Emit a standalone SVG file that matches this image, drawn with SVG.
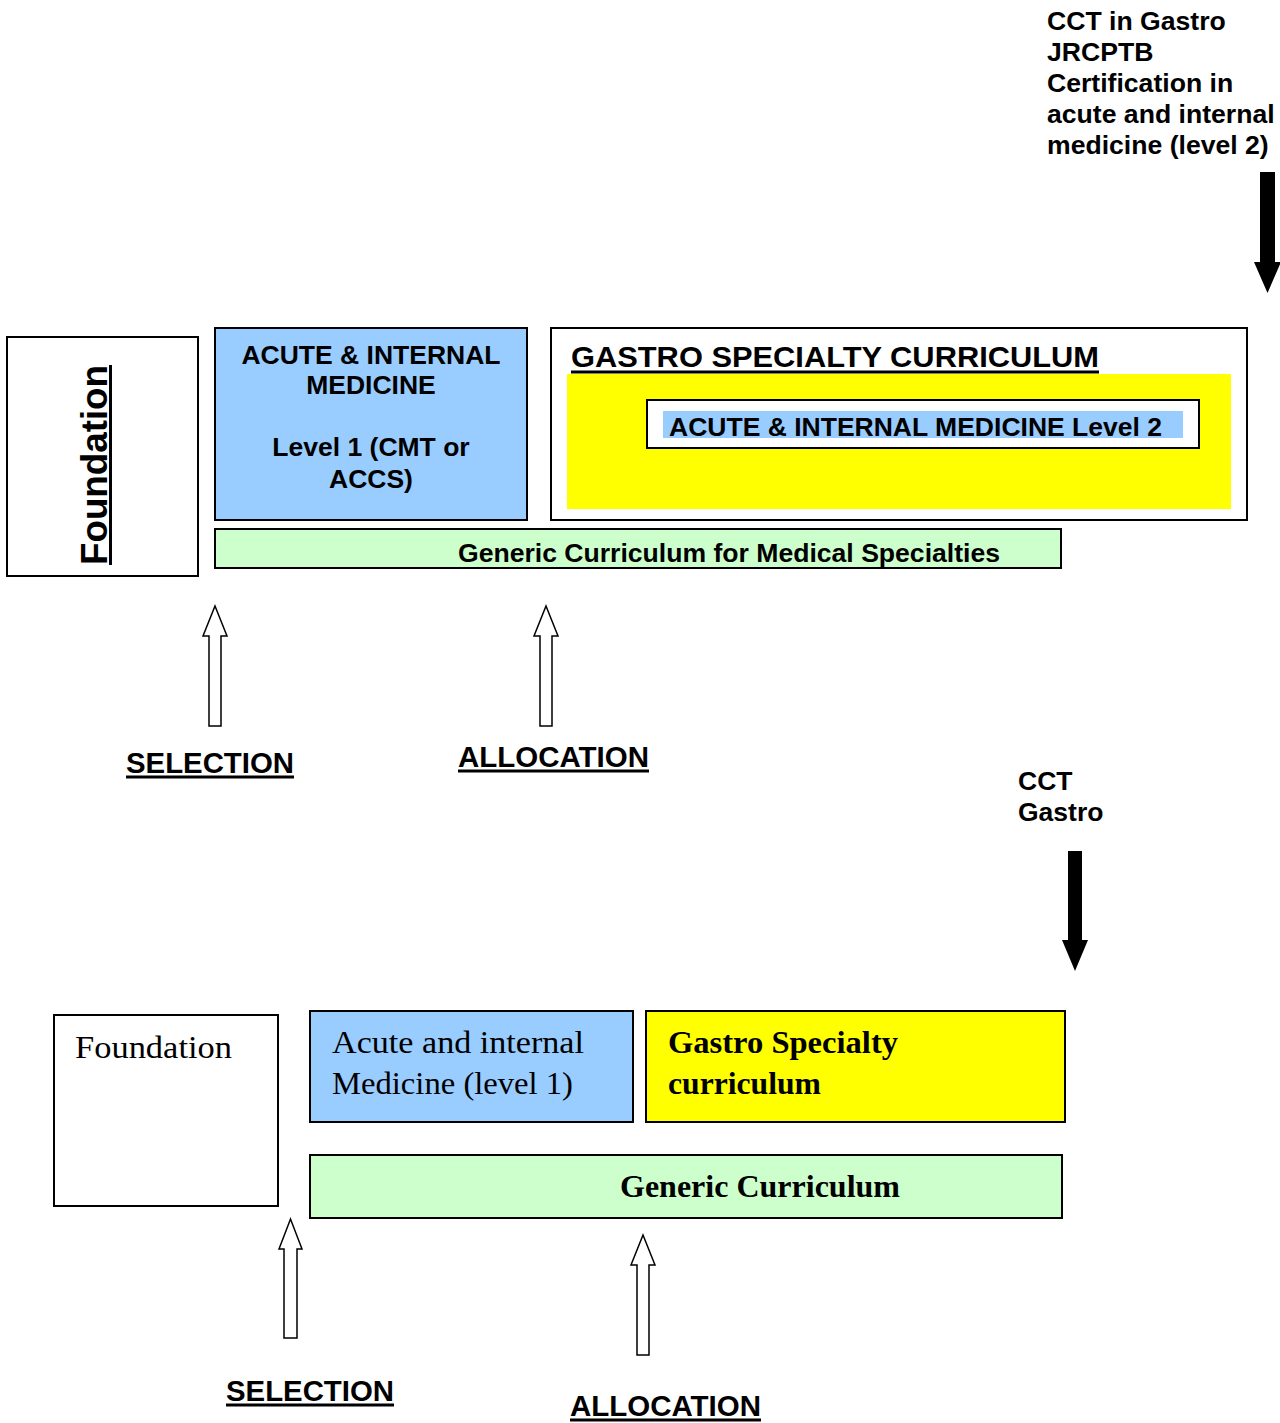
<svg xmlns="http://www.w3.org/2000/svg" width="1280" height="1423" viewBox="0 0 1280 1423">
<style>
.box{stroke:#000;stroke-width:2}
.white{fill:#fff}
.blue{fill:#99CCFF}
.yellow{fill:#FFFF00}
.green{fill:#CCFFCC}
.sb{font-family:"Liberation Sans",Arial,sans-serif;font-weight:bold;fill:#000}
.sr{font-family:"Liberation Serif","Times New Roman",serif;fill:#000}
.ul{stroke:#000;stroke-width:3}
.hollow{fill:#fff;stroke:#000;stroke-width:1.5;stroke-linejoin:miter}
.solid{fill:#000;stroke:none}
</style>

<!-- TOP DIAGRAM -->
<g id="top-foundation">
<rect class="box white" x="7" y="337" width="191" height="239"/>
<g transform="translate(107,565) rotate(-90)">
<text class="sb" x="0" y="0" font-size="36" textLength="200" lengthAdjust="spacingAndGlyphs">Foundation</text>
<line class="ul" x1="0" y1="3.5" x2="200" y2="3.5"/>
</g>
</g>

<g id="top-acute-level1">
<rect class="box blue" x="215" y="328" width="312" height="192"/>
<text class="sb" font-size="26.5" text-anchor="middle"><tspan x="371" y="364">ACUTE &amp; INTERNAL</tspan><tspan x="371" y="394">MEDICINE</tspan><tspan x="371" y="456">Level 1 (CMT or</tspan><tspan x="371" y="488">ACCS)</tspan></text>
</g>

<g id="top-gastro">
<rect class="box white" x="551" y="328" width="696" height="192"/>
<text class="sb" x="571" y="367" font-size="30" textLength="528" lengthAdjust="spacingAndGlyphs">GASTRO SPECIALTY CURRICULUM</text>
<line class="ul" x1="571" y1="372" x2="1099" y2="372"/>
<rect class="yellow" x="567" y="374" width="664" height="135"/>
</g>

<g id="top-acute-level2">
<rect class="box white" x="647" y="400" width="552" height="48"/>
<rect class="blue" x="663" y="411" width="520" height="27"/>
<text class="sb" x="669" y="436" font-size="26" textLength="493" lengthAdjust="spacingAndGlyphs">ACUTE &amp; INTERNAL MEDICINE Level 2</text>
</g>

<g id="top-generic">
<rect class="box green" x="215" y="529" width="846" height="39"/>
<text class="sb" x="458" y="562" font-size="26" textLength="542" lengthAdjust="spacingAndGlyphs">Generic Curriculum for Medical Specialties</text>
</g>

<g id="top-cct-label">
<text class="sb" font-size="26.6"><tspan x="1047" y="30">CCT in Gastro</tspan><tspan x="1047" y="61">JRCPTB</tspan><tspan x="1047" y="92">Certification in</tspan><tspan x="1047" y="123">acute and internal</tspan><tspan x="1047" y="154">medicine (level 2)</tspan></text>
</g>

<g id="top-selection-label">
<text class="sb" x="126" y="773" font-size="29" textLength="168" lengthAdjust="spacingAndGlyphs">SELECTION</text>
<line class="ul" x1="126" y1="777" x2="294" y2="777"/>
</g>

<g id="top-allocation-label">
<text class="sb" x="458" y="767" font-size="29" textLength="191" lengthAdjust="spacingAndGlyphs">ALLOCATION</text>
<line class="ul" x1="458" y1="771" x2="649" y2="771"/>
</g>

<!-- BOTTOM DIAGRAM -->
<g id="bottom-foundation">
<rect class="box white" x="54" y="1015" width="224" height="191"/>
<text class="sr" x="75" y="1058" font-size="31" textLength="157" lengthAdjust="spacingAndGlyphs">Foundation</text>
</g>

<g id="bottom-acute">
<rect class="box blue" x="310" y="1011" width="323" height="111"/>
<text class="sr" x="332" y="1053" font-size="31" textLength="252" lengthAdjust="spacingAndGlyphs">Acute and internal</text>
<text class="sr" x="332" y="1094" font-size="31" textLength="241" lengthAdjust="spacingAndGlyphs">Medicine (level 1)</text>
</g>

<g id="bottom-gastro">
<rect class="box yellow" x="646" y="1011" width="419" height="111"/>
<text class="sr" x="668" y="1053" font-size="31" font-weight="bold" textLength="230" lengthAdjust="spacingAndGlyphs">Gastro Specialty</text>
<text class="sr" x="668" y="1094" font-size="31" font-weight="bold" textLength="153" lengthAdjust="spacingAndGlyphs">curriculum</text>
</g>

<g id="bottom-generic">
<rect class="box green" x="310" y="1155" width="752" height="63"/>
<text class="sr" x="620" y="1197" font-size="31" font-weight="bold" textLength="280" lengthAdjust="spacingAndGlyphs">Generic Curriculum</text>
</g>

<g id="bottom-cct-label">
<text class="sb" font-size="26.5"><tspan x="1018" y="790">CCT</tspan><tspan x="1018" y="821">Gastro</tspan></text>
</g>

<g id="bottom-selection-label">
<text class="sb" x="226" y="1401" font-size="29" textLength="168" lengthAdjust="spacingAndGlyphs">SELECTION</text>
<line class="ul" x1="226" y1="1405" x2="394" y2="1405"/>
</g>

<g id="bottom-allocation-label">
<text class="sb" x="570" y="1416" font-size="29" textLength="191" lengthAdjust="spacingAndGlyphs">ALLOCATION</text>
<line class="ul" x1="570" y1="1420" x2="761" y2="1420"/>
</g>

<!-- CONNECTORS -->
<g id="connectors">
<polygon class="solid" points="1260,172 1275,172 1275,262 1281,262 1267.5,293 1254,262 1260,262"/>
<polygon class="hollow" points="209,726 221,726 221,636 227,636 215,606 203,636 209,636"/>
<polygon class="hollow" points="540,726 552,726 552,636 558,636 546,606 534,636 540,636"/>
<polygon class="solid" points="1068,851 1082,851 1082,940 1088,940 1075,971 1062,940 1068,940"/>
<polygon class="hollow" points="284,1338 297,1338 297,1249 302,1249 290.5,1219 279,1249 284,1249"/>
<polygon class="hollow" points="637,1355 649,1355 649,1265 655,1265 643,1235 631,1265 637,1265"/>
</g>
</svg>
